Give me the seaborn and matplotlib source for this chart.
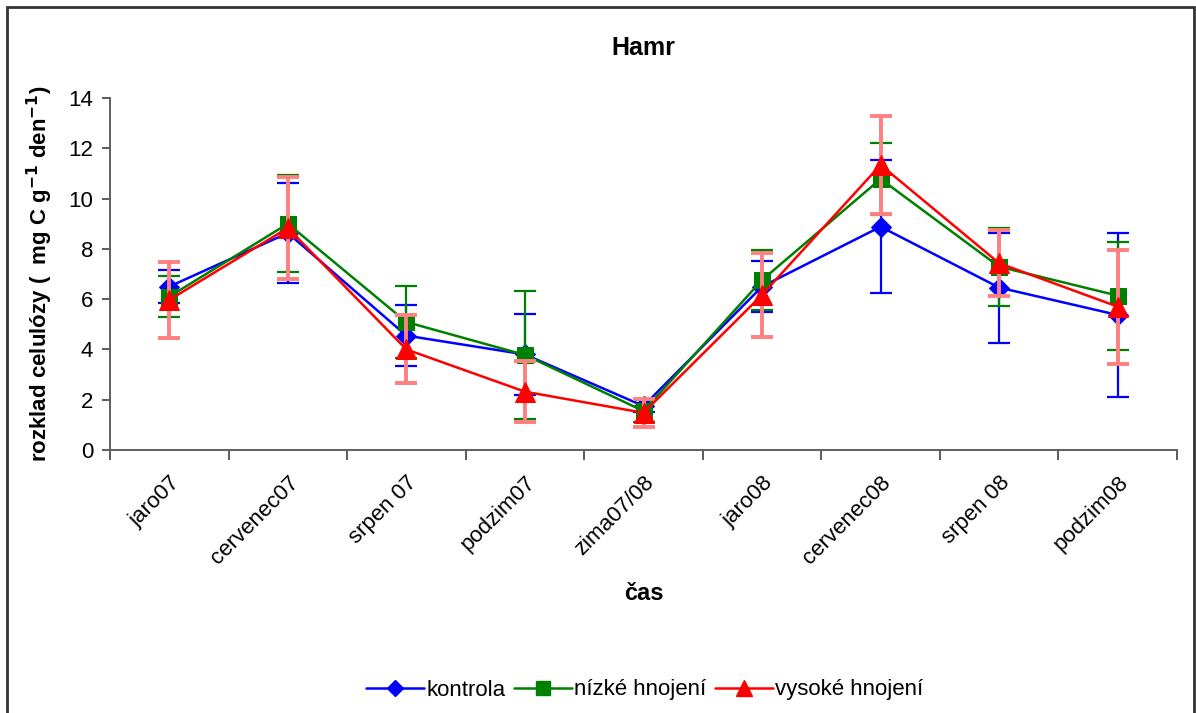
import matplotlib
matplotlib.use("Agg")
import matplotlib.pyplot as plt
from matplotlib.patches import Rectangle
from matplotlib.lines import Line2D
import seaborn as sns
import pandas as pd
import numpy as np

categories = ["jaro07", "cervenec07", "srpen 07", "podzim07", "zima07/08",
              "jaro08", "cervenec08", "srpen 08", "podzim08"]
kontrola = [6.50, 8.63, 4.55, 3.80, 1.75, 6.50, 8.88, 6.46, 5.37]
kontrola_err = [0.66, 1.97, 1.20, 1.60, 0.25, 1.00, 2.65, 2.19, 3.25]
nizke = [6.10, 9.00, 5.09, 3.78, 1.55, 6.76, 10.78, 7.29, 6.14]
nizke_err = [0.83, 1.92, 1.42, 2.53, 0.45, 1.20, 1.45, 1.55, 2.15]
vysoke = [5.97, 8.83, 4.00, 2.32, 1.48, 6.17, 11.34, 7.43, 5.70]
vysoke_err = [1.50, 2.03, 1.35, 1.22, 0.56, 1.66, 1.95, 1.32, 2.27]
series_names = ["kontrola", "nízké hnojení", "vysoké hnojení"]

sns.set_theme(style="white")
plt.rcParams["font.family"] = ["Liberation Sans", "DejaVu Sans"]
plt.rcParams["text.color"] = "black"
plt.rcParams["axes.labelcolor"] = "black"
plt.rcParams["xtick.color"] = "black"
plt.rcParams["ytick.color"] = "black"

fig = plt.figure(figsize=(11.96, 7.13), dpi=100)
ax = fig.add_axes([110/1196, 1-450/713, (1177-110)/1196, (450-98)/713])

x = np.arange(len(categories))
df = pd.DataFrame({
    "cas": categories * 3,
    "x": np.concatenate([x, x, x]),
    "val": kontrola + nizke + vysoke,
    "err": kontrola_err + nizke_err + vysoke_err,
    "serie": sum([[n] * len(categories) for n in series_names], []),
})

colors = {"kontrola": "#0000FF", "nízké hnojení": "#008000", "vysoké hnojení": "#FF0000"}
err_colors = {"kontrola": "#0000FF", "nízké hnojení": "#008000", "vysoké hnojení": "#FF8080"}
err_lw = {"kontrola": 1.6, "nízké hnojení": 1.6, "vysoké hnojení": 2.8}
markers = {"kontrola": "D", "nízké hnojení": "s", "vysoké hnojení": "^"}
msize = {"kontrola": 10, "nízké hnojení": 12, "vysoké hnojení": 14}

for i, name in enumerate(series_names):
    sub = df[df.serie == name]
    ax.errorbar(sub["x"], sub["val"], yerr=sub["err"], fmt="none",
                ecolor=err_colors[name], elinewidth=err_lw[name], capsize=8,
                capthick=err_lw[name], zorder=2 + 2 * i)
    sns.lineplot(data=sub, x="x", y="val", ax=ax, color=colors[name],
                 marker=markers[name], markersize=msize[name],
                 markeredgecolor=colors[name], linewidth=1.8,
                 zorder=3 + 2 * i, legend=False)

ax.set_xlim(-0.5, len(categories) - 0.5)
ax.set_ylim(0, 14)
ax.set_yticks(np.arange(0, 15, 2))
ax.set_xticks(x)
ax.set_xticklabels(categories, rotation=45, ha="right", rotation_mode="anchor",
                   fontsize=16, color="black")
ax.set_xticks(np.arange(-0.5, len(categories)), minor=True)
ax.tick_params(axis="x", which="major", length=0, pad=16, labelcolor="black")
ax.tick_params(axis="x", which="minor", length=7, width=1.2, color="#404040",
               direction="out", bottom=True)
ax.tick_params(axis="y", length=6, width=1.2, color="#404040", direction="out",
               left=True, labelsize=16, pad=6, labelcolor="black")
for s in ["top", "right"]:
    ax.spines[s].set_visible(False)
for s in ["left", "bottom"]:
    ax.spines[s].set_color("#606060")
    ax.spines[s].set_linewidth(1.4)
ax.grid(False)

ax.set_xlabel("čas", fontsize=17, fontweight="bold", labelpad=10, color="black")
ax.set_ylabel(r"rozklad celulózy (  mg C g$^{\mathbf{-1}}$ den$^{\mathbf{-1}}$)",
              fontsize=16, fontweight="bold", labelpad=10, color="black")
fig.text(643/1196, 1-48/713, "Hamr", ha="center", va="center",
         fontsize=18, fontweight="bold", color="black")

handles = [Line2D([0], [0], color=colors[n], marker=markers[n],
                  markersize=msize[n] * 0.85, markeredgecolor=colors[n], linewidth=1.8)
           for n in series_names]
leg = fig.legend(handles, series_names, loc="center", bbox_to_anchor=(645/1196, 1-690/713),
                 ncol=3, frameon=False, fontsize=16, handlelength=2.6,
                 columnspacing=0.4, handletextpad=0.1)
for t in leg.get_texts():
    t.set_color("black")

fig.patches.append(Rectangle((7/1196, -0.02), (1194-7)/1196, 1-7/713 + 0.02,
                             transform=fig.transFigure, fill=False,
                             edgecolor="#333333", linewidth=2))

fig.savefig("out.png", dpi=100, facecolor="white")
